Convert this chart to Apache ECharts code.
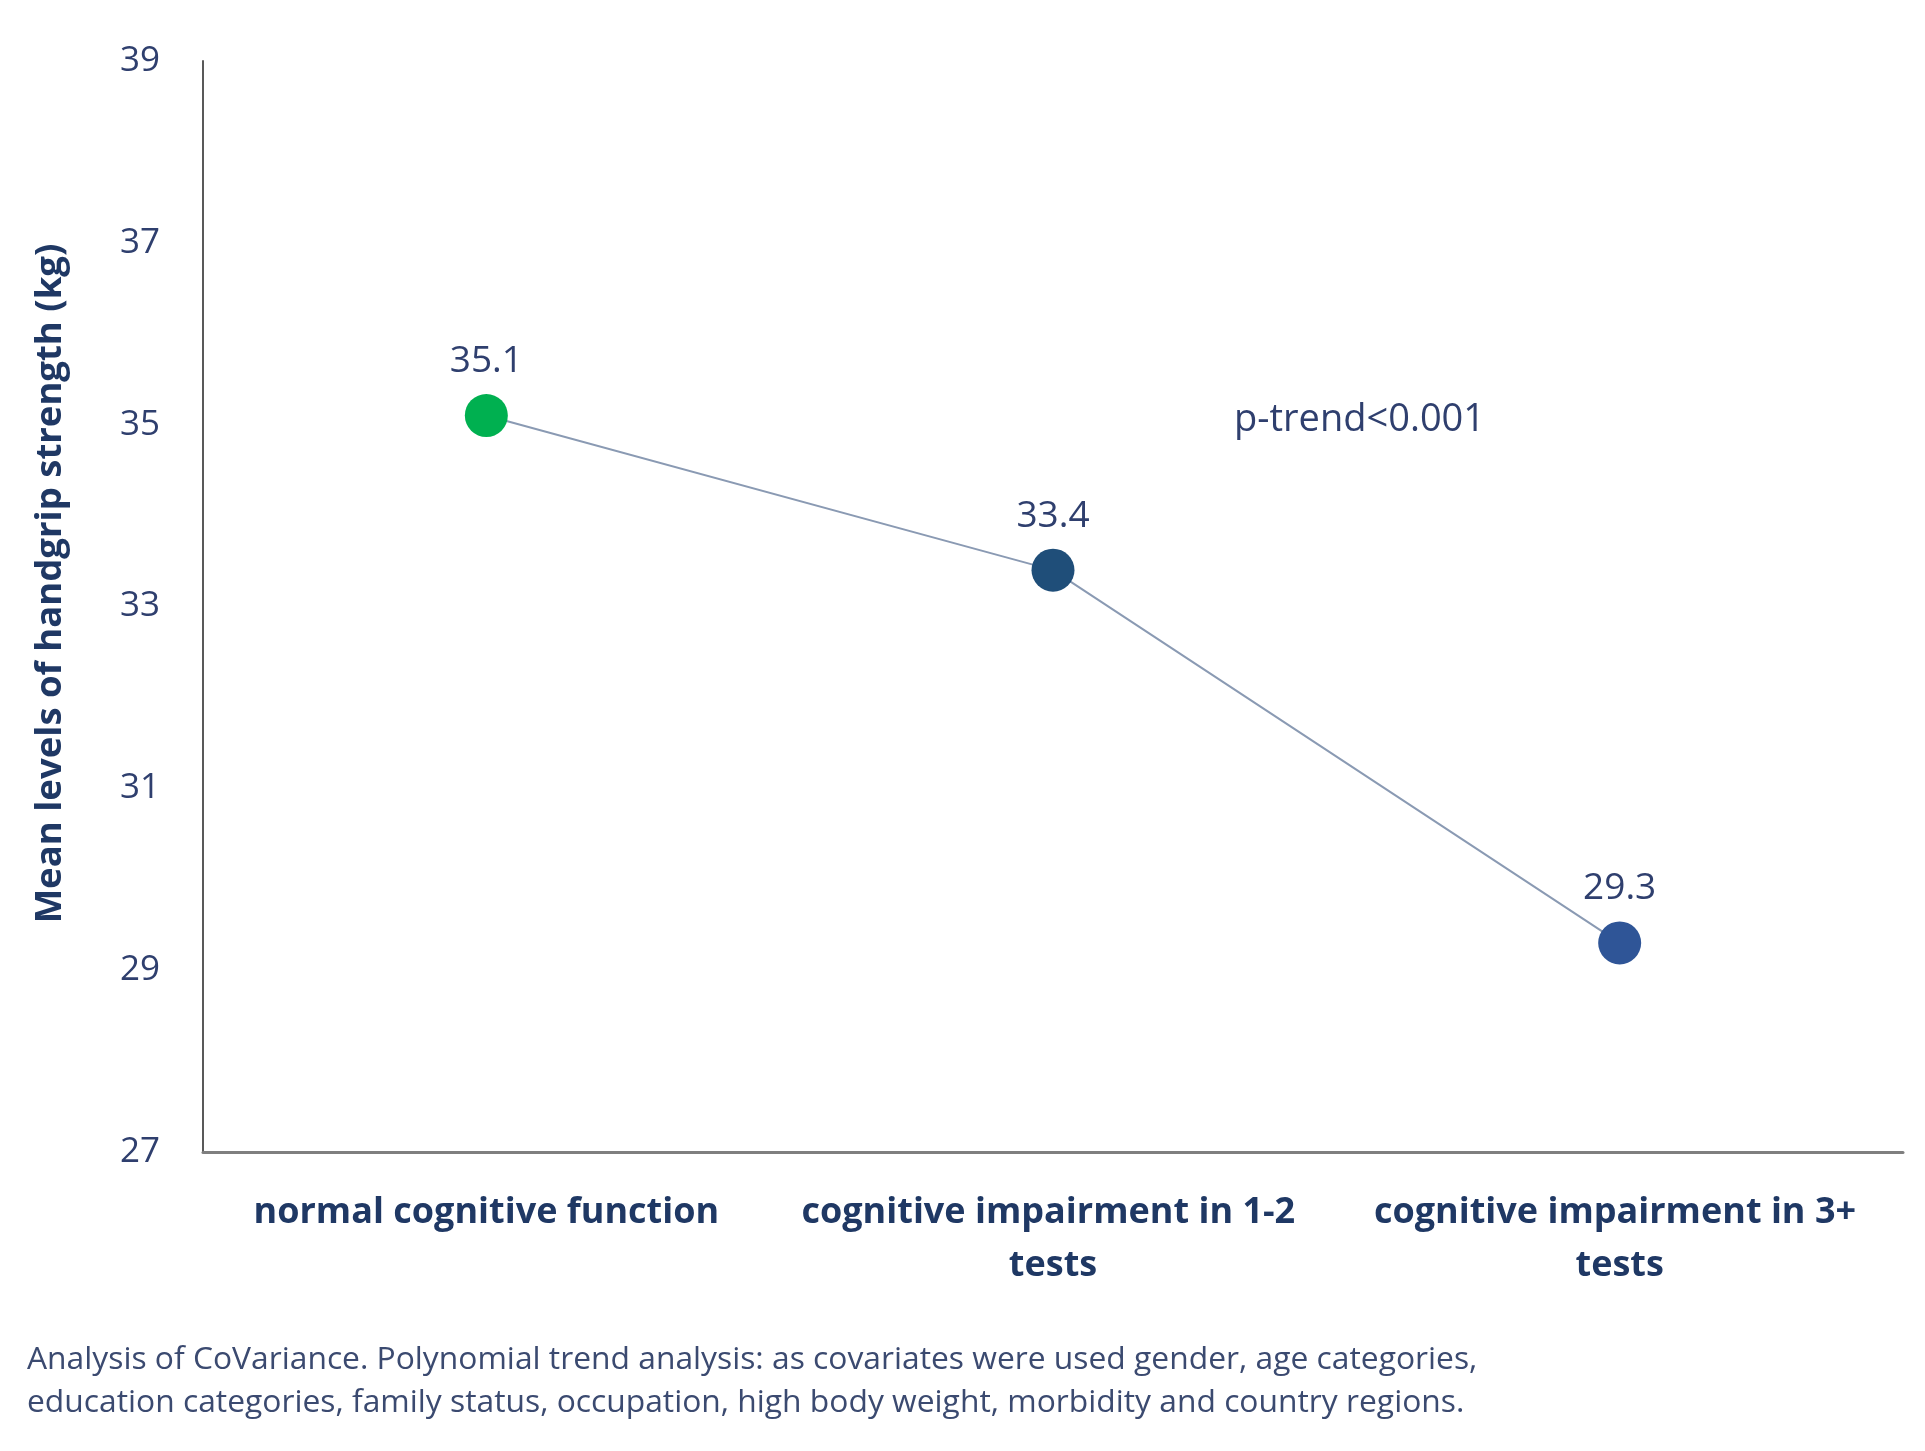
<!DOCTYPE html>
<html>
<head>
<meta charset="utf-8">
<script src="https://cdn.jsdelivr.net/npm/echarts@6/dist/echarts.min.js"></script>
<style>
  html, body { margin: 0; padding: 0; background: #fff; }
  #chart { width: 1925px; height: 1451px; }
</style>
</head>
<body>
<div id="chart"></div>
<script>
// chart data
var categories = ['normal cognitive function', 'cognitive impairment in 1-2 tests', 'cognitive impairment in 3+ tests']
var meanStrength = [35.1, 33.4, 29.3]
var pointColors = ['#00b050', '#1f4e79', '#2f5597']
var yTicks = { min: 27, max: 39, interval: 2 }
var trendNote = 'p-trend<0.001'
var footnote = 'Analysis of CoVariance. Polynomial trend analysis: as covariates were used gender, age categories,\neducation categories, family status, occupation, high body weight, morbidity and country regions.'

var navy = '#1f3864'
var font = 'Open Sans'

var chart = echarts.init(document.getElementById('chart'))

chart.setOption({
  backgroundColor: '#fff',
  animation: false,
  textStyle: { fontFamily: font },
  grid: {
    left: 203,
    right: 22,
    top: 61,
    bottom: 299
  },
  xAxis: {
    type: 'category',
    data: categories,
    boundaryGap: true,
    axisLine: { lineStyle: { color: '#7f7f7f', width: 3 } },
    axisTick: { show: false },
    axisLabel: {
      margin: 34,
      color: navy,
      fontFamily: font,
      fontWeight: 'bold',
      fontSize: 36,
      lineHeight: 53,
      width: 530,
      overflow: 'break',
      interval: 0
    }
  },
  yAxis: {
    type: 'value',
    min: yTicks.min,
    max: yTicks.max,
    interval: yTicks.interval,
    name: 'Mean levels of handgrip strength (kg)',
    nameLocation: 'middle',
    nameGap: 134,
    nameTextStyle: {
      color: navy,
      fontFamily: font,
      fontWeight: 'bold',
      fontSize: 36.5,
      padding: [0, 0, 0, 46]
    },
    axisLine: { show: true, lineStyle: { color: '#595959', width: 2 } },
    axisTick: { show: false },
    splitLine: { show: false },
    axisLabel: {
      margin: 43,
      color: '#2f3f6e',
      fontFamily: font,
      fontSize: 35
    }
  },
  series: [{
    type: 'line',
    data: meanStrength.map(function (v, i) {
      return { value: v, itemStyle: { color: pointColors[i] } }
    }),
    symbol: 'circle',
    symbolSize: 43,
    lineStyle: { color: '#8a9ab3', width: 2 },
    itemStyle: { borderWidth: 0 },
    label: {
      show: true,
      position: 'top',
      distance: 14,
      color: '#2f3f6e',
      fontFamily: font,
      fontSize: 37,
      formatter: function (p) { return p.value.toFixed(1) }
    }
  }],
  graphic: [
    {
      type: 'text',
      left: 1234,
      top: 401,
      style: {
        text: trendNote,
        fill: '#2f3f6e',
        font: '38px "Open Sans"'
      }
    },
    {
      type: 'text',
      left: 27,
      top: 1338,
      style: {
        text: footnote,
        fill: '#3b4a70',
        font: '31.8px "Open Sans"',
        lineHeight: 43
      }
    }
  ]
})
</script>
</body>
</html>
